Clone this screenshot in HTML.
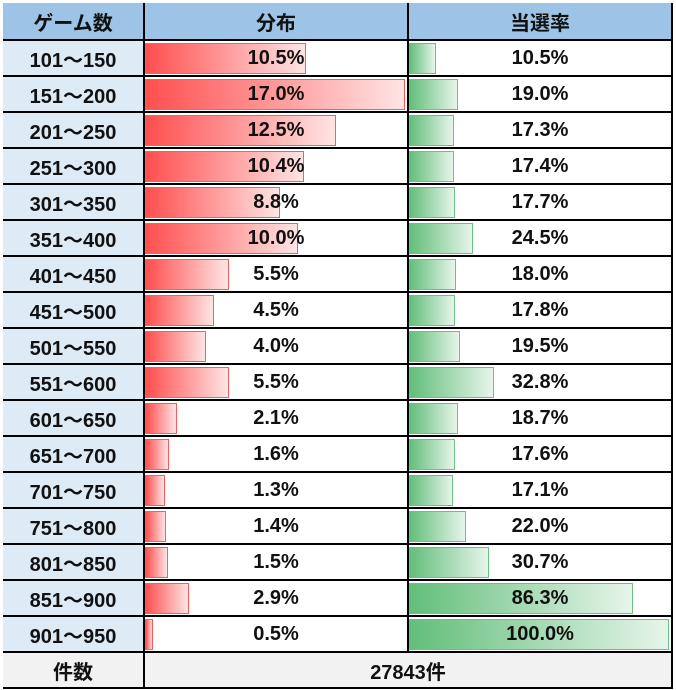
<!DOCTYPE html>
<html><head><meta charset="utf-8"><style>
body{margin:0;width:676px;height:690px;background:#fff;font-family:"Liberation Sans","Noto Sans CJK JP",sans-serif;}
#t{position:absolute;left:3px;top:3px;}
.c{position:absolute;box-sizing:border-box;border-right:2px solid #000;border-bottom:2px solid #000;display:flex;align-items:center;justify-content:center;font-weight:bold;font-size:20px;color:#111;}
.bar{position:absolute;box-sizing:border-box;}
.txt{position:relative;z-index:2;}
</style></head><body>
<div id="t"></div>
<script>
const ranges=["101～150","151～200","201～250","251～300","301～350","351～400","401～450","451～500","501～550","551～600","601～650","651～700","701～750","751～800","801～850","851～900","901～950"];
const dist=[10.5,17.0,12.5,10.4,8.8,10.0,5.5,4.5,4.0,5.5,2.1,1.6,1.3,1.4,1.5,2.9,0.5];
const rate=[10.5,19.0,17.3,17.4,17.7,24.5,18.0,17.8,19.5,32.8,18.7,17.6,17.1,22.0,30.7,86.3,100.0];
const total="27843件";
const t=document.getElementById('t');
t.style.borderLeft='2px solid #000';t.style.borderTop='2px solid #000';
t.style.width='668px';t.style.height='684px';t.style.boxSizing='border-box';
const X=[0,140,404,668],RH=36,H0=36;
function cell(x,y,w,h,bg,text,name){const d=document.createElement('div');d.className='c';
d.style.left=x+'px';d.style.top=y+'px';d.style.width=w+'px';d.style.height=h+'px';d.style.background=bg;


const s=document.createElement('span');s.className='txt';s.textContent=text;d.appendChild(s);t.appendChild(d);return d;}
const ox=-2,oy=-2;
cell(ox,oy,X[1]+2,H0+2,'#9dc3e6','ゲーム数','header-game-count');
cell(X[1]+ox+2,oy,X[2]-X[1],H0+2,'#9dc3e6','分布','header-distribution');
cell(X[2]+ox+2,oy,X[3]-X[2],H0+2,'#9dc3e6','当選率','header-win-rate');
const maxD=Math.max(...dist),maxR=Math.max(...rate),BW=260;
function addBar(c,v,max,col,end,bcol,name){const b=document.createElement('div');b.className='bar';
b.style.left='0px';b.style.top='2px';b.style.height='31px';b.style.width=Math.max(3,v/max*BW)+'px';
b.style.background='linear-gradient(to right,'+col+','+end+')';b.style.border='1px solid '+bcol;


c.insertBefore(b,c.firstChild);}
ranges.forEach((r,i)=>{const y=oy+H0+2+i*RH;
cell(ox,y,X[1]+2,RH,'#ddebf7',r,'range-label');
const d=cell(X[1]+ox+2,y,X[2]-X[1],RH,'#fff',dist[i].toFixed(1)+'%','distribution-cell');
addBar(d,dist[i],maxD,'#ff4f4f','#ffe4e4','#ff5a5a','distribution-bar');
const g=cell(X[2]+ox+2,y,X[3]-X[2],RH,'#fff',rate[i].toFixed(1)+'%','win-rate-cell');
addBar(g,rate[i],maxR,'#63be7b','#e6f5ea','#6cc283','win-rate-bar');});
const fy=oy+H0+2+ranges.length*RH;
cell(ox,fy,X[1]+2,RH,'#f2f2f2','件数','footer-label');
cell(X[1]+ox+2,fy,X[3]-X[1],RH,'#f2f2f2',total,'footer-total');
</script>
</body></html>
